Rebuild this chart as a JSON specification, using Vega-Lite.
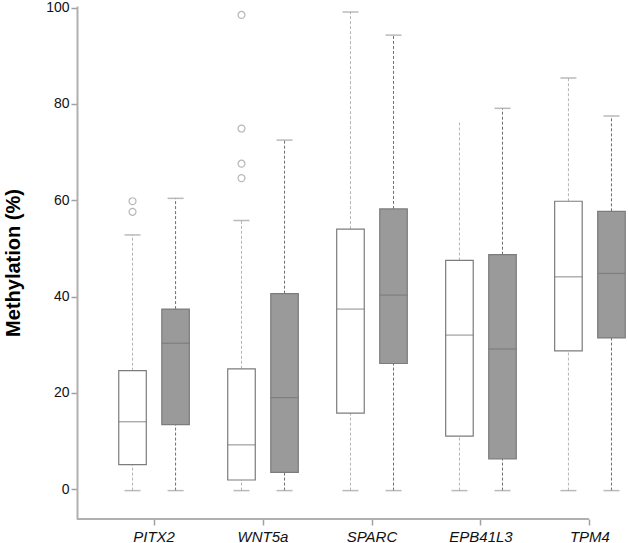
{
  "$schema": "https://vega.github.io/schema/vega-lite/v6.json",
  "width": 512,
  "height": 513,
  "padding": {"left": 3, "top": 0, "right": 0, "bottom": 0},
  "background": "white",
  "config": {
    "view": {"stroke": null},
    "font": "Liberation Sans",
    "axis": {"grid": false}
  },
  "datasets": {
    "stats": [
      {"gene": "PITX2", "group": "Group 1", "lo": -0.3, "q1": 5.1, "median": 14.0, "q3": 24.6, "hi": 52.8, "cap": 52.8},
      {"gene": "PITX2", "group": "Group 2", "lo": -0.3, "q1": 13.4, "median": 30.3, "q3": 37.4, "hi": 60.4, "cap": 60.4},
      {"gene": "WNT5a", "group": "Group 1", "lo": -0.3, "q1": 1.9, "median": 9.2, "q3": 25.0, "hi": 55.8, "cap": 55.8},
      {"gene": "WNT5a", "group": "Group 2", "lo": -0.3, "q1": 3.5, "median": 19.0, "q3": 40.6, "hi": 72.5, "cap": 72.5},
      {"gene": "SPARC", "group": "Group 1", "lo": -0.3, "q1": 15.8, "median": 37.4, "q3": 54.0, "hi": 99.1, "cap": 99.1},
      {"gene": "SPARC", "group": "Group 2", "lo": -0.3, "q1": 26.1, "median": 40.3, "q3": 58.2, "hi": 94.3, "cap": 94.3},
      {"gene": "EPB41L3", "group": "Group 1", "lo": -0.3, "q1": 11.0, "median": 32.0, "q3": 47.5, "hi": 76.3, "cap": null},
      {"gene": "EPB41L3", "group": "Group 2", "lo": -0.3, "q1": 6.3, "median": 29.1, "q3": 48.7, "hi": 79.1, "cap": 79.1},
      {"gene": "TPM4", "group": "Group 1", "lo": -0.3, "q1": 28.7, "median": 44.1, "q3": 59.8, "hi": 85.4, "cap": 85.4},
      {"gene": "TPM4", "group": "Group 2", "lo": -0.3, "q1": 31.4, "median": 44.8, "q3": 57.7, "hi": 77.5, "cap": 77.5}
    ],
    "outliers": [
      {"gene": "PITX2", "group": "Group 1", "value": 59.8},
      {"gene": "PITX2", "group": "Group 1", "value": 57.6},
      {"gene": "WNT5a", "group": "Group 1", "value": 98.5},
      {"gene": "WNT5a", "group": "Group 1", "value": 74.9},
      {"gene": "WNT5a", "group": "Group 1", "value": 67.6},
      {"gene": "WNT5a", "group": "Group 1", "value": 64.6}
    ],
    "baseline": [{"label": "x axis"}]
  },
  "data": {"name": "stats"},
  "encoding": {
    "x": {
      "field": "gene",
      "type": "nominal",
      "sort": ["PITX2", "WNT5a", "SPARC", "EPB41L3", "TPM4"],
      "scale": {"range": [0, 590], "paddingInner": 0.21, "paddingOuter": 0.312},
      "axis": {
        "title": null,
        "domain": false,
        "labelAngle": 0,
        "labelFontSize": 15,
        "labelFontStyle": "italic",
        "labelColor": "#111111",
        "labelPadding": 4,
        "tickSize": 6,
        "tickColor": "#a0a0a0",
        "tickWidth": 1.5
      }
    },
    "xOffset": {
      "field": "group",
      "type": "nominal",
      "scale": {"domain": ["Group 1", "Group 2"], "paddingInner": 0.36, "paddingOuter": 0.18}
    }
  },
  "layer": [
    {
      "mark": {"type": "rule", "strokeDash": [3, 2], "strokeWidth": 1},
      "encoding": {
        "y": {
          "field": "q3",
          "type": "quantitative",
          "scale": {"domain": [-6.2, 100.35], "nice": false, "zero": false},
          "axis": {
            "title": "Methylation (%)",
            "titleFontSize": 20,
            "titleFontWeight": "bold",
            "titleColor": "#000000",
            "titlePadding": 22,
            "values": [0, 20, 40, 60, 80, 100],
            "labelFontSize": 14,
            "labelColor": "#111111",
            "labelPadding": 2,
            "tickSize": 6,
            "tickColor": "#a0a0a0",
            "tickWidth": 1.5,
            "domainColor": "#b0b0b0",
            "domainWidth": 2
          }
        },
        "y2": {"field": "hi"},
        "stroke": {
          "field": "group",
          "type": "nominal",
          "scale": {"domain": ["Group 1", "Group 2"], "range": ["#b4b4b4", "#6e6e6e"]},
          "legend": null
        }
      }
    },
    {
      "mark": {"type": "rule", "strokeDash": [3, 2], "strokeWidth": 1},
      "encoding": {
        "y": {"field": "lo", "type": "quantitative"},
        "y2": {"field": "q1"},
        "stroke": {"field": "group", "type": "nominal", "legend": null}
      }
    },
    {
      "mark": {"type": "bar", "stroke": "#7c7c7c", "strokeWidth": 1.2},
      "encoding": {
        "y": {"field": "q1", "type": "quantitative"},
        "y2": {"field": "q3"},
        "fill": {
          "field": "group",
          "type": "nominal",
          "scale": {"domain": ["Group 1", "Group 2"], "range": ["#ffffff", "#9a9a9a"]},
          "legend": null
        }
      }
    },
    {
      "mark": {"type": "tick", "size": 27.5, "thickness": 1.2, "color": "#747474"},
      "encoding": {"y": {"field": "median", "type": "quantitative"}}
    },
    {
      "mark": {"type": "tick", "size": 16, "thickness": 1.5, "color": "#9c9c9c"},
      "encoding": {"y": {"field": "cap", "type": "quantitative"}}
    },
    {
      "mark": {"type": "tick", "size": 16, "thickness": 1.5, "color": "#9c9c9c"},
      "encoding": {"y": {"field": "lo", "type": "quantitative"}}
    },
    {
      "data": {"name": "outliers"},
      "mark": {"type": "point", "shape": "circle", "size": 48, "filled": false, "stroke": "#9a9a9a", "strokeWidth": 1.2},
      "encoding": {"y": {"field": "value", "type": "quantitative"}}
    },
    {
      "data": {"name": "baseline"},
      "mark": {"type": "rule", "color": "#b0b0b0", "strokeWidth": 2},
      "encoding": {"y": {"datum": -6.2}, "x": null, "xOffset": null}
    }
  ]
}
